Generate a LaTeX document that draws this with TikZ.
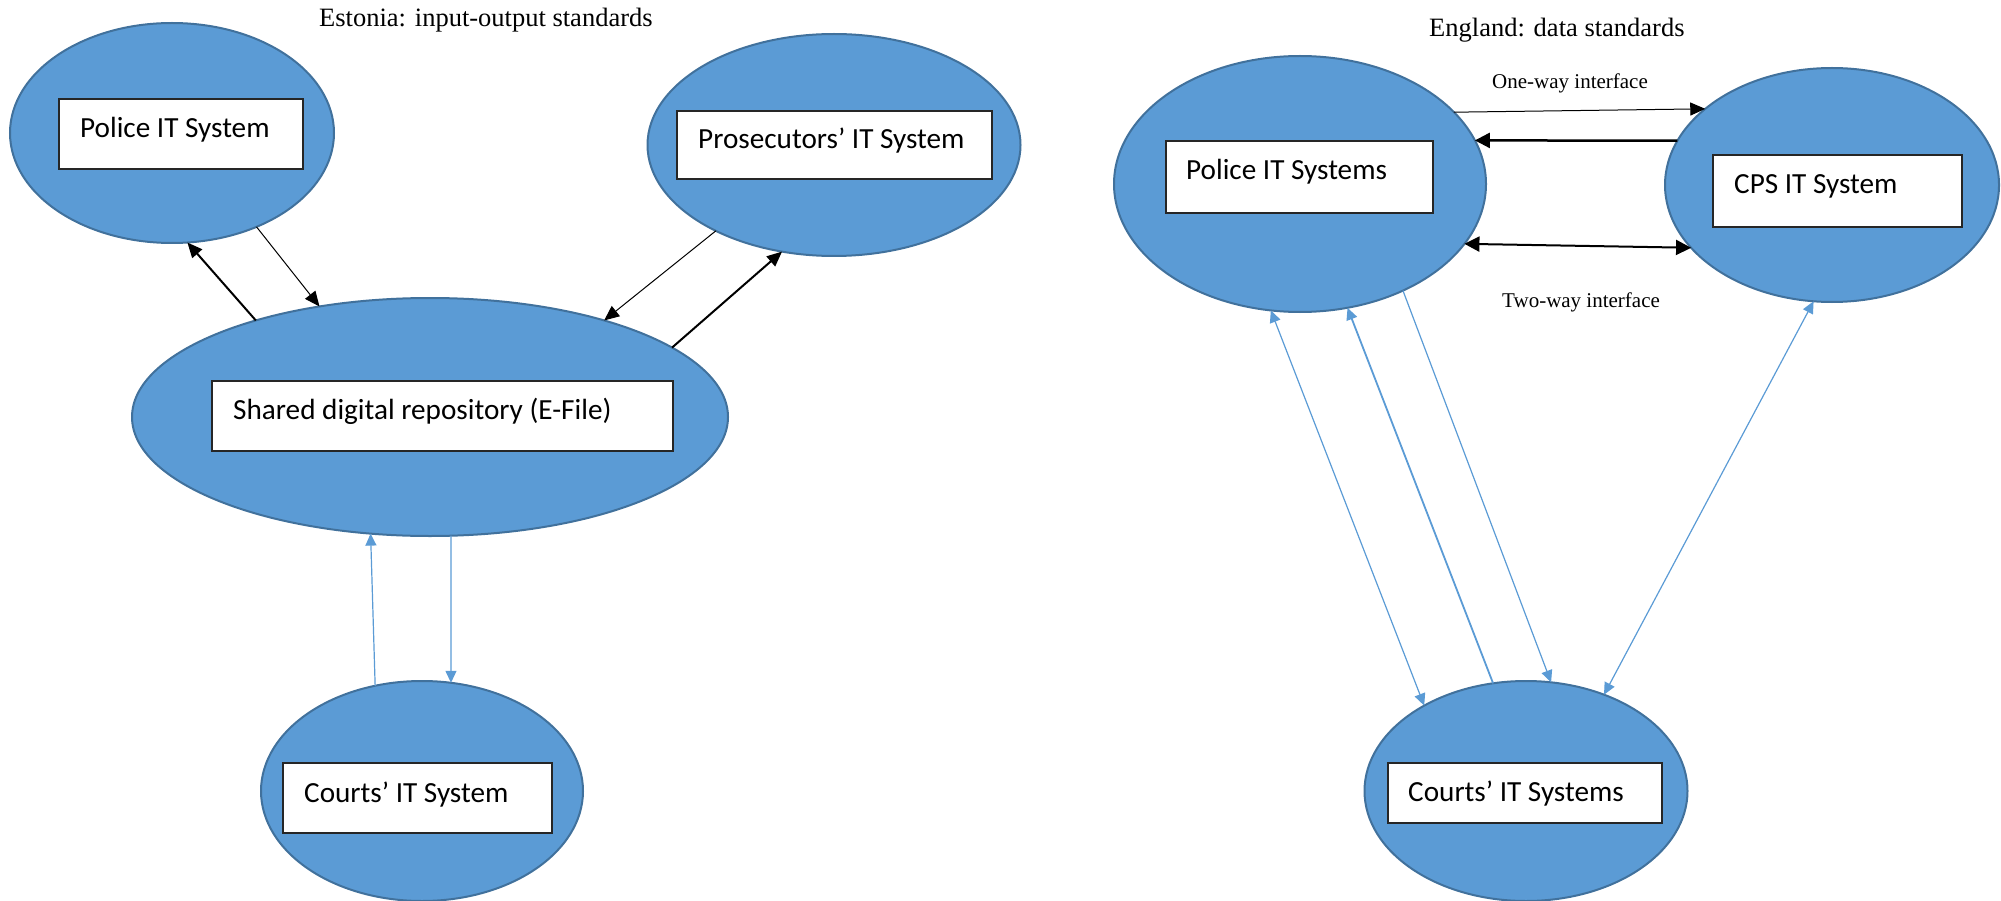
\documentclass[tikz,border=0pt]{standalone}
\usepackage{fontspec}
\setmainfont{Liberation Serif}
\newfontfamily\carlito{Carlito}
\usetikzlibrary{shapes.geometric,arrows.meta}
\definecolor{ofill}{HTML}{5B9BD5}
\definecolor{oline}{HTML}{41719C}
\begin{document}
\begin{tikzpicture}[x=1pt,y=-1pt,
  sys/.style={ellipse, draw=oline, line width=2pt, fill=ofill, inner sep=0pt, outer sep=0pt},
  tbox/.style={rectangle, draw=black!85, line width=1.5pt, fill=white, anchor=north west, inner sep=0pt, outer sep=0pt},
  ttext/.style={anchor=base west, inner sep=0pt, font=\carlito\fontsize{29.2}{35}\selectfont},
  ttitle/.style={anchor=base west, inner sep=0pt, font=\fontsize{26.5}{31}\selectfont},
  tsmall/.style={anchor=base west, inner sep=0pt, font=\fontsize{21}{25}\selectfont},
  blk/.style={draw=black, line width=1pt, -{Triangle[length=15pt,width=13pt]}},
  blkthick/.style={draw=black, line width=2pt, -{Triangle[length=15pt,width=13pt]}},
  blkheavy/.style={draw=black, line width=2.5pt, -{Triangle[length=15pt,width=15pt]}},
  blktwo/.style={draw=black, line width=2pt, {Triangle[length=15pt,width=15pt]}-{Triangle[length=15pt,width=15pt]}},
  blu/.style={draw=ofill, line width=1.2pt, -{Triangle[length=12pt,width=11pt]}},
  bluthick/.style={draw=ofill, line width=1.8pt, -{Triangle[length=12pt,width=11pt]}},
  bluboth/.style={draw=ofill, line width=1.2pt, {Triangle[length=12pt,width=11pt]}-{Triangle[length=12pt,width=11pt]}}
]
\useasboundingbox (0,0) rectangle (2001,901);

% ---------------- Estonia ----------------
\node[sys, minimum width=324pt, minimum height=220pt] (epol) at (172,133) {};
\node[sys, minimum width=373pt, minimum height=222pt] (epros) at (834,145) {};
\node[sys, minimum width=596pt, minimum height=238pt] (eshr) at (430,417) {};
\node[sys, minimum width=322pt, minimum height=220pt] (ecrt) at (422,791) {};

\node[tbox, minimum width=244pt, minimum height=70pt] (epolbox) at (59,99) {};
\node[tbox, minimum width=315pt, minimum height=68pt] (eprosbox) at (677,111) {};
\node[tbox, minimum width=461pt, minimum height=70pt] (eshrbox) at (212,381) {};
\node[tbox, minimum width=269pt, minimum height=70pt] (ecrtbox) at (283,763) {};

\node[ttext] (epoltxt) at (80,138) {Police IT System};
\node[ttext] (eprostxt) at (698,149) {Prosecutors’ IT System};
\node[ttext] (eshrtxt) at (233,419) {Shared digital repository (E-File)};
\node[ttext] (ecrttxt) at (304,802) {Courts’ IT System};

\node[ttitle] (etitle) at (319,27) {Estonia: input-output standards};

\draw[blkthick] (eshr.151) -- (epol.-82.7);
\draw[blk] (epol.-48.5) -- (eshr.135.3);
\draw[blk] (epros.-144.6) -- (eshr.29);
\draw[blkthick] (eshr.16.6) -- (epros.-116.8);
\draw[blu] (ecrt.114.4) -- (eshr.-117.9);
\draw[blu] (eshr.-80.9) -- (ecrt.75.1);

% ---------------- England ----------------
\node[sys, minimum width=372pt, minimum height=256pt] (gpol) at (1300,184) {};
\node[sys, minimum width=334pt, minimum height=234pt] (gcps) at (1832,185) {};
\node[sys, minimum width=323pt, minimum height=220pt] (gcrt) at (1526,791) {};

\node[tbox, minimum width=267pt, minimum height=72pt] (gpolbox) at (1166,141) {};
\node[tbox, minimum width=249pt, minimum height=72pt] (gcpsbox) at (1713,155) {};
\node[tbox, minimum width=274pt, minimum height=60pt] (gcrtbox) at (1388,763) {};

\node[ttext] (gpoltxt) at (1186,180) {Police IT Systems};
\node[ttext] (gcpstxt) at (1734,194) {CPS IT System};
\node[ttext] (gcrttxt) at (1408,801) {Courts’ IT Systems};

\node[ttitle] (gtitle) at (1429,37) {England: data standards};
\node[tsmall] (oneway) at (1492,89) {One-way interface};
\node[tsmall] (twoway) at (1502,307) {Two-way interface};

\draw[blk] (gpol.25) -- (gcps.149.6);
\draw[blkheavy] (gcps.164.2) -- (gpol.14.4);
\draw[blktwo] (gpol.-20.2) -- (gcps.-156);
\draw[bluboth] (gcrt.140) -- (gpol.-103.1);
\draw[bluthick] (gcrt.107.5) -- (gpol.-69.2);
\draw[blu] (gpol.-46.9) -- (gcrt.77.8);
\draw[bluboth] (gcrt.51.1) -- (gcps.-99.6);
\end{tikzpicture}
\end{document}
